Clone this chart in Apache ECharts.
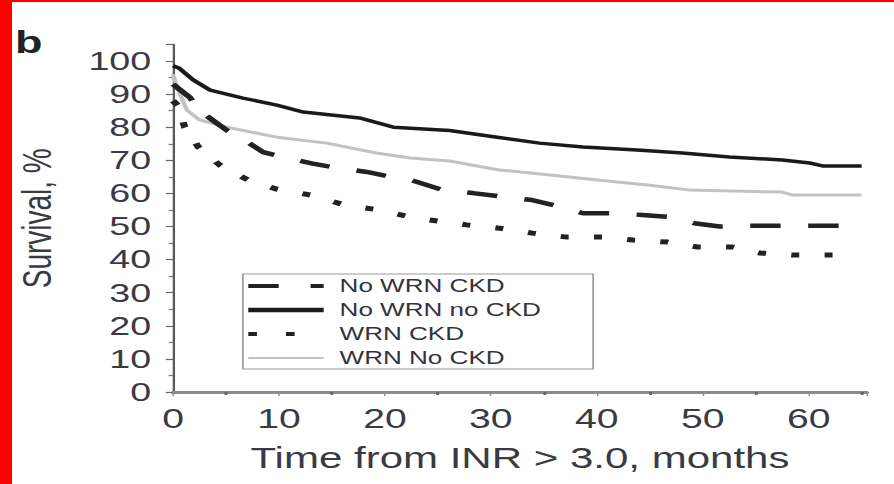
<!DOCTYPE html>
<html><head><meta charset="utf-8">
<script src="https://cdn.jsdelivr.net/npm/echarts@6/dist/echarts.min.js"></script>
<style>
html,body{margin:0;padding:0;background:#fff;overflow:hidden;}
#wrap{width:894px;height:484px;overflow:hidden;position:relative;background:#fff;}
#chart{width:617px;height:484px;transform:scaleX(1.449);transform-origin:0 0;}
</style></head><body><div id="wrap"><div id="chart"></div></div>
<script>
// ---- data ----
const seriesNames = ['No WRN CKD', 'No WRN no CKD', 'WRN CKD', 'WRN No CKD'];

const noWrnCkdTime = [0, 1.6, 2.5, 5.1, 6.3, 8.5, 10.4, 13.2, 15.5, 18.3, 20.5, 22.5, 25.5, 28.3, 31.1, 33.9, 36.5, 38.7, 41.5, 44.3, 46.9, 49.2, 51.6, 54.4, 57.3, 59.9, 62.9, 64];
const noWrnCkdSurv = [93, 89, 85, 79, 77, 72.5, 71, 69, 67.7, 66.5, 65, 64, 61, 60.1, 59, 58, 56, 54, 54, 53.5, 52.9, 51, 50, 50.2, 50.2, 50.2, 50.2, 50.2];

const noWrnNoCkdTime = [0, 0.6, 1.9, 3.5, 6.6, 9.8, 12.3, 17.6, 20.8, 26.1, 30.6, 34.6, 38.7, 43.8, 48.1, 52.5, 57.5, 60.1, 61.3, 65];
const noWrnNoCkdSurv = [98.6, 97.8, 94.3, 91.2, 88.8, 86.7, 84.6, 82.8, 80, 79, 77, 75.2, 74, 73.1, 72.2, 71, 70.1, 69.2, 68.3, 68.3];

const wrnCkdTime = [0, 0.5, 1.1, 2.4, 4.4, 7.1, 9.8, 13, 16.2, 19.5, 22.8, 27.7, 30.8, 33.9, 37.2, 40.6, 43.4, 46.7, 49.5, 52.8, 55.4, 58.5, 61.8, 63];
const wrnCkdSurv = [88, 86.4, 80, 74, 68.6, 64, 61.3, 59.5, 56.5, 55, 52.6, 50.5, 49.5, 48, 46.8, 46.8, 45.9, 45.3, 43.8, 43.8, 42, 41.4, 41.4, 41.4];

const wrnNoCkdTime = [0, 0.4, 1.3, 2.5, 5.1, 9.8, 14.5, 19.2, 22.4, 26.1, 30.8, 35.6, 40.3, 45, 48.8, 57.5, 58.5, 65];
const wrnNoCkdSurv = [96, 92, 85.2, 82.2, 80, 77, 75.2, 72.2, 70.7, 69.8, 67.1, 65.6, 64, 62.5, 61, 60.4, 59.5, 59.5];

const xTitle = 'Time from INR > 3.0, months';
const yTitle = 'Survival, %';
const panelLabel = 'b';

// ---- build ----
function pairs(t, v) { return t.map((x, i) => [x, v[i]]); }
const FONT = '"Liberation Sans", Arial, Helvetica, sans-serif';
const TXT = '#3a3a44';

const styles = [
  { color: '#222', width: 4.5, type: [21, 19] },
  { color: '#1a1a1a', width: 3.5, type: 'solid' },
  { color: '#222', width: 5, type: [5.5, 17.5] },
  { color: '#c2c2c2', width: 3, type: 'solid' }
];
const legendWidths = [4, 4.5, 4, 2];
const legendDash = [[21, 22], 'solid', [6, 20], 'solid'];

const chart = echarts.init(document.getElementById('chart'), null, { renderer: 'svg' });
chart.setOption({
  animation: false,
  backgroundColor: '#ffffff',
  grid: { left: 119.4, right: 18.7, top: 44.5, bottom: 92, containLabel: false },
  xAxis: {
    type: 'value', min: 0, max: 65.5, interval: 10,
    name: xTitle, nameLocation: 'middle', nameGap: 51,
    nameTextStyle: { fontFamily: FONT, fontSize: 29, color: TXT },
    axisLine: { show: true, lineStyle: { color: '#8c8c8c', width: 3 } },
    axisTick: { show: true, inside: false, length: 4, lineStyle: { color: '#8c8c8c', width: 1 } },
    minorTick: { show: true, splitNumber: 2, length: 3, lineStyle: { color: '#666', width: 2 } },
    axisLabel: { fontFamily: FONT, fontSize: 27, color: TXT, margin: 13, showMaxLabel: false },
    splitLine: { show: false }
  },
  yAxis: {
    type: 'value', min: 0, max: 105, interval: 10,
    name: yTitle, nameLocation: 'middle', nameGap: 80,
    nameTextStyle: { fontFamily: FONT, fontSize: 28, color: TXT },
    axisLine: { show: true, lineStyle: { color: '#5a5a5a', width: 1.6 } },
    axisTick: { show: true, length: 5, lineStyle: { color: '#6a6a6a', width: 1.2 } },
    minorTick: { show: true, splitNumber: 2, length: 3, lineStyle: { color: '#777', width: 1.2 } },
    axisLabel: { fontFamily: FONT, fontSize: 26, color: TXT, margin: 15, showMaxLabel: false },
    splitLine: { show: false }
  },
  legend: {
    orient: 'vertical', left: 167.6, top: 274,
    data: seriesNames.map((n, i) => ({
      name: n,
      itemStyle: { opacity: 0 },
      lineStyle: { width: legendWidths[i], type: legendDash[i], color: styles[i].color }
    })),
    itemStyle: { opacity: 0 },
    itemWidth: 52, itemHeight: 14, itemGap: 6,
    padding: [3, 36, 2, 1.5],
    borderColor: '#9a9a9a', borderWidth: 1.2,
    textStyle: { fontFamily: FONT, fontSize: 18, lineHeight: 18, color: '#33333d', padding: [0, 0, 0, 6] },
    selectedMode: false
  },
  graphic: [
    { type: 'rect', left: 0, top: 0, shape: { width: 8.3, height: 484 }, style: { fill: '#ff0000' }, silent: true },
    { type: 'rect', left: 0, top: 0, shape: { width: 617, height: 2 }, style: { fill: '#ff0000' }, silent: true },
    { type: 'text', left: 10.4, top: 27, style: { text: panelLabel, font: 'bold 31px ' + FONT, fill: '#222' } }
  ],
  series: seriesNames.map((n, i) => ({
    name: n, type: 'line', symbol: 'none',
    data: [pairs(noWrnCkdTime, noWrnCkdSurv), pairs(noWrnNoCkdTime, noWrnNoCkdSurv),
           pairs(wrnCkdTime, wrnCkdSurv), pairs(wrnNoCkdTime, wrnNoCkdSurv)][i],
    lineStyle: { color: styles[i].color, width: styles[i].width, type: styles[i].type },
    itemStyle: { color: styles[i].color },
    z: [3, 4, 3, 2][i]
  }))
});
</script></body></html>
